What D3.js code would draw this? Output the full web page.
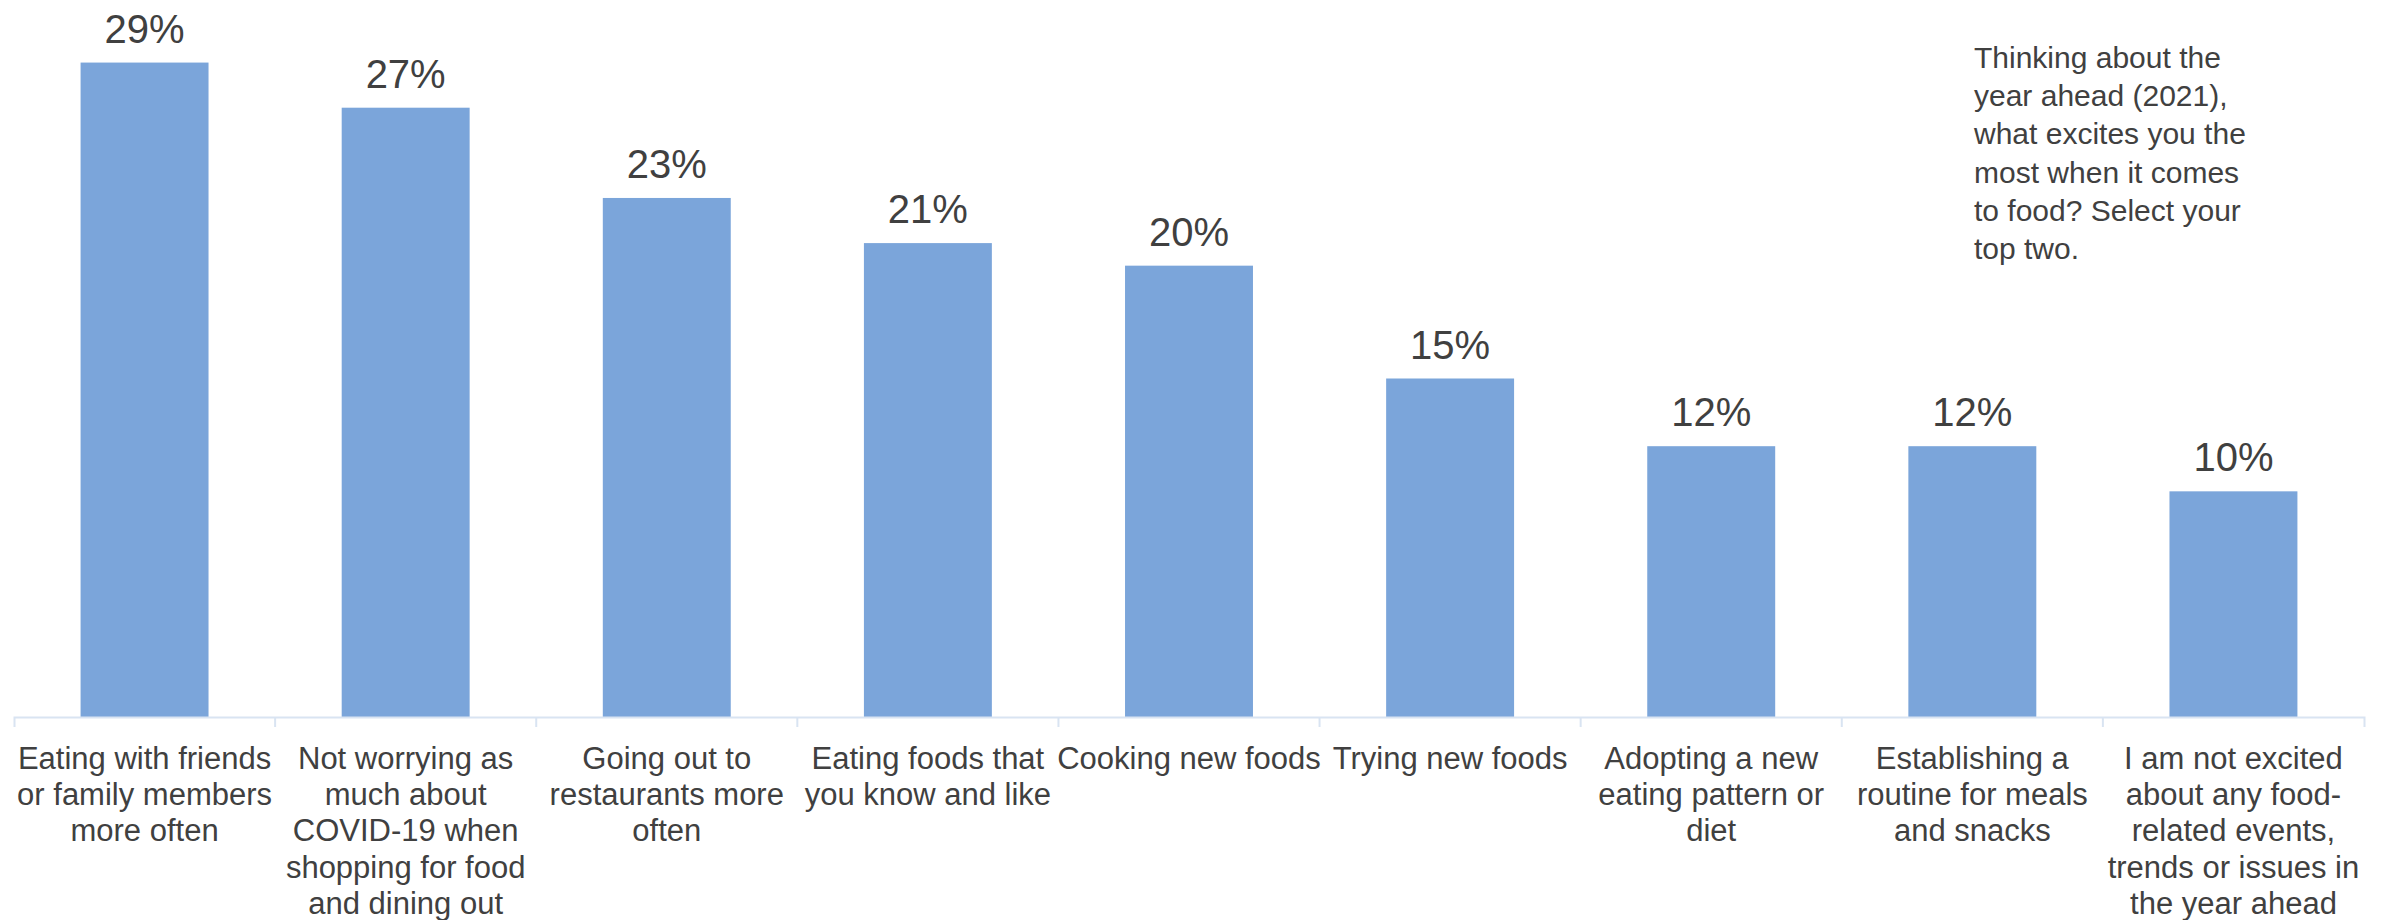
<!DOCTYPE html>
<html>
<head>
<meta charset="utf-8">
<script src="https://cdn.jsdelivr.net/npm/d3@7"></script>
<style>
  html, body { margin: 0; padding: 0; background: #ffffff; }
  svg { display: block; }
  text { font-family: "Liberation Sans", Arial, sans-serif; fill: #404040; }
</style>
</head>
<body>
<svg id="chart" width="2387" height="920"></svg>
<script>
// Survey answers (line breaks mark how each label wraps under its bar)
const categories = [
  "Eating with friends\nor family members\nmore often",
  "Not worrying as\nmuch about\nCOVID-19 when\nshopping for food\nand dining out",
  "Going out to\nrestaurants more\noften",
  "Eating foods that\nyou know and like",
  "Cooking new foods",
  "Trying new foods",
  "Adopting a new\neating pattern or\ndiet",
  "Establishing a\nroutine for meals\nand snacks",
  "I am not excited\nabout any food-\nrelated events,\ntrends or issues in\nthe year ahead"
];
const values = [0.29, 0.27, 0.23, 0.21, 0.20, 0.15, 0.12, 0.12, 0.10];
const questionLines = [
  "Thinking about the",
  "year ahead (2021),",
  "what excites you the",
  "most when it comes",
  "to food? Select your",
  "top two."
];

const svg = d3.select("#chart");
const baseY = 717;

// Category slots along the axis and the narrower bars centred in them
const slot = d3.scaleBand().domain(categories).range([14, 2364]).padding(0);
const x = d3.scaleBand().domain(categories).range([14, 2364])
  .paddingInner(0.51).paddingOuter(0.255);
const y = d3.scaleLinear().domain([0, 0.30]).range([baseY, 40]);
const pct = d3.format(".0%");

// Bars
svg.append("g").selectAll("rect")
  .data(values)
  .join("rect")
  .attr("x", (d, i) => x(categories[i]))
  .attr("y", d => y(d))
  .attr("width", x.bandwidth())
  .attr("height", d => y(0) - y(d))
  .attr("fill", "#7ba5da");

// Value labels above the bars
svg.append("g").selectAll("text")
  .data(values)
  .join("text")
  .attr("x", (d, i) => x(categories[i]) + x.bandwidth() / 2)
  .attr("y", d => y(d) - 20)
  .attr("text-anchor", "middle")
  .attr("font-size", 40)
  .text(d => pct(d));

// Category axis: baseline with tick marks between categories
const axis = svg.append("g")
  .attr("transform", `translate(0,${baseY})`)
  .call(d3.axisBottom(slot).tickSize(0).tickSizeOuter(10).tickFormat(""));
axis.select(".domain").attr("stroke", "#d9e4f2").attr("stroke-width", 2);
axis.selectAll(".tick").remove();

axis.selectAll("line.sep")
  .data(categories.slice(1))
  .join("line")
  .attr("class", "sep")
  .attr("x1", d => slot(d))
  .attr("x2", d => slot(d))
  .attr("y1", 0)
  .attr("y2", 10)
  .attr("stroke", "#d9e4f2")
  .attr("stroke-width", 2);

// Wrapped category labels
const labels = svg.append("g").selectAll("text")
  .data(categories)
  .join("text")
  .attr("text-anchor", "middle")
  .attr("font-size", 31)
  .attr("transform", d => `translate(${slot(d) + slot.bandwidth() / 2},769)`);
labels.selectAll("tspan")
  .data(d => d.split("\n"))
  .join("tspan")
  .attr("x", 0)
  .attr("y", (d, i) => i * 36.2)
  .text(d => d);

// Survey question note in the top right
svg.append("text")
  .attr("font-size", 30)
  .selectAll("tspan")
  .data(questionLines)
  .join("tspan")
  .attr("x", 1974)
  .attr("y", (d, i) => 68 + i * 38.2)
  .text(d => d);
</script>
</body>
</html>
